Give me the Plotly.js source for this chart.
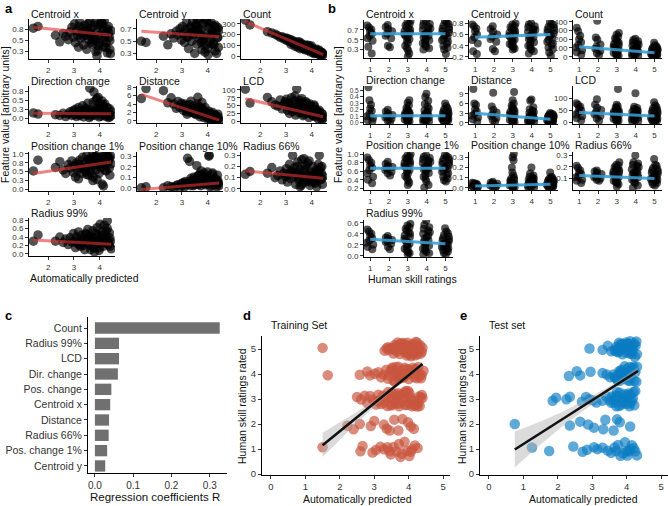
<!DOCTYPE html>
<html><head><meta charset="utf-8">
<script src="https://cdn.plot.ly/plotly-3.0.1.min.js"></script>
<style>html,body{margin:0;padding:0;background:#fff}#chart{width:668px;height:506px}</style>
</head><body><div id="chart"></div>
<script>
// ---------- DATA ----------
const features = ['Centroid x','Centroid y','Count','Direction change','Distance','LCD','Position change 1%','Position change 10%','Radius 66%','Radius 99%'];

// Panel a: automatically predicted score (x) shared by all feature panels
const predA = [
 1.42,1.60,2.28,2.45,2.58,2.68,2.78,2.85,2.92,2.98,
 3.02,3.06,3.10,3.14,3.18,3.22,3.26,3.30,3.34,3.38,
 3.42,3.46,3.50,3.54,3.58,3.62,3.66,3.70,3.74,3.78,
 3.82,3.86,3.90,3.94,3.98,4.02,4.06,4.10,4.14,4.18,
 4.22,4.26,4.30,4.34,4.38,4.42,4.45,3.55,3.75,3.95,
 4.15,4.35,3.65,3.85,4.05,4.25,3.45,4.40,3.20,4.00,
 3.60,3.80,4.20,4.30,3.90,3.70,4.10,3.35,4.40,3.50];
const centroidXA = [
 0.78,0.82,0.62,0.47,0.66,0.60,0.52,0.70,0.80,0.58,
 0.88,0.45,0.72,0.62,0.35,0.92,0.55,0.68,0.78,0.40,
 0.85,0.62,0.30,0.74,0.50,0.93,0.66,0.42,0.80,0.58,
 0.90,0.48,0.70,0.28,0.62,0.86,0.55,0.75,0.36,0.95,
 0.64,0.45,0.22,0.82,0.58,0.20,0.72,0.88,0.52,0.38,
 0.78,0.68,0.60,0.25,0.92,0.34,0.70,0.50,0.82,0.44,
 0.66,0.85,0.56,0.76,0.15,0.46,0.90,0.60,0.30,0.74];
const centroidYA = [
 0.50,0.48,0.58,0.44,0.62,0.55,0.66,0.60,0.70,0.52,
 0.74,0.62,0.48,0.68,0.80,0.56,0.38,0.72,0.64,0.50,
 0.82,0.60,0.30,0.76,0.45,0.66,0.84,0.54,0.70,0.36,
 0.78,0.58,0.42,0.85,0.64,0.28,0.72,0.52,0.80,0.62,
 0.46,0.74,0.34,0.66,0.56,0.40,0.68,0.76,0.48,0.82,
 0.60,0.30,0.70,0.54,0.78,0.44,0.62,0.72,0.58,0.38,
 0.84,0.50,0.66,0.76,0.32,0.60,0.46,0.74,0.56,0.68];
const countA = [
 335,290,228,215,205,190,175,180,160,170,
 150,165,140,155,135,150,125,140,118,130,
 112,128,100,118,95,110,90,100,80,95,
 75,88,68,80,60,72,52,64,45,55,
 38,48,30,40,22,30,18,70,60,40,
 30,10,75,55,35,20,85,35,110,95,
 120,105,65,55,100,70,25,95,5,135];
const dirChangeA = [
 0.15,0.12,0.10,0.08,0.14,0.05,0.12,0.18,0.08,0.22,
 0.10,0.25,0.05,0.15,0.30,0.08,0.20,0.12,0.35,0.04,
 0.18,0.28,0.10,0.42,0.15,0.84,0.06,0.22,0.12,0.73,
 0.08,0.50,0.18,0.26,0.04,0.30,0.14,0.38,0.10,0.22,
 0.06,0.16,0.30,0.02,0.12,0.20,0.08,0.24,0.45,0.58,
 0.34,0.10,0.16,0.28,0.06,0.14,0.20,0.26,0.12,0.36,
 0.02,0.18,0.40,0.08,0.55,0.10,0.48,0.22,0.04,0.14];
const distanceA = [
 5.3,7.7,7.2,4.3,5.5,4.0,3.0,4.6,3.2,4.2,
 3.8,2.5,4.0,3.0,2.2,3.6,2.8,3.9,2.0,3.2,
 2.6,3.5,1.8,2.9,2.2,5.6,1.6,2.6,1.9,4.4,
 1.4,2.4,1.6,2.0,1.1,1.8,0.9,1.5,0.7,1.2,
 0.6,1.0,0.4,0.8,0.3,0.5,0.2,1.5,3.0,1.4,
 1.7,0.2,3.4,0.8,2.3,0.3,1.9,1.0,1.6,0.5,
 4.0,2.9,2.0,1.4,3.2,1.0,0.3,4.7,1.6,2.7];
const lcdA = [
 102,58,76,62,52,48,68,40,55,62,
 70,35,58,25,48,75,32,52,65,20,
 103,45,28,60,38,72,18,50,34,62,
 25,44,12,55,30,40,20,48,15,35,
 25,8,30,18,12,22,10,66,42,28,
 38,15,55,32,18,30,40,5,42,45,
 30,58,20,35,48,22,52,80,25,55];
const posChange1A = [
 0.52,0.82,0.62,0.78,0.55,0.45,0.70,0.60,0.80,0.48,
 0.66,0.35,0.74,0.55,0.30,0.82,0.62,0.45,0.90,0.58,
 0.72,0.50,0.95,0.65,0.40,0.85,0.60,0.78,0.25,0.92,
 0.68,0.55,0.98,0.75,0.45,0.88,0.62,0.15,0.80,0.95,
 0.70,0.52,0.90,0.78,0.60,0.95,0.72,0.82,0.35,0.70,
 0.10,0.85,0.48,0.92,0.65,1.00,0.58,0.40,0.70,0.85,
 0.76,0.88,0.55,0.98,0.28,0.95,0.75,0.62,0.88,0.42];
const posChange10A = [
 0.00,0.01,0.00,0.02,0.01,0.005,0.02,0.03,0.01,0.04,
 0.02,0.05,0.01,0.06,0.03,0.28,0.04,0.25,0.02,0.07,
 0.05,0.10,0.03,0.08,0.21,0.04,0.12,0.06,0.02,0.09,
 0.05,0.14,0.03,0.07,0.11,0.04,0.31,0.08,0.02,0.13,
 0.06,0.03,0.09,0.05,0.12,0.04,0.02,0.06,0.16,0.04,
 0.08,0.01,0.03,0.10,0.30,0.06,0.02,0.07,0.04,0.15,
 0.11,0.05,0.14,0.03,0.08,0.13,0.01,0.09,0.05,0.07];
const radius66A = [
 0.13,0.155,0.14,0.19,0.10,0.12,0.16,0.08,0.14,0.11,
 0.18,0.06,0.13,0.22,0.09,0.15,0.30,0.11,0.19,0.04,
 0.14,0.24,0.08,0.17,0.12,0.26,0.05,0.16,0.10,0.21,
 0.07,0.13,0.25,0.03,0.15,0.09,0.20,0.12,0.05,0.17,
 0.10,0.22,0.30,0.08,0.14,0.04,0.11,0.02,0.18,0.06,
 0.15,0.19,0.10,0.23,0.07,0.13,0.20,0.09,0.16,0.12,
 0.03,0.09,0.02,0.16,0.11,0.27,0.06,0.14,0.20,0.10];
const radius99A = [
 0.30,0.45,0.30,0.40,0.27,0.35,0.22,0.38,0.28,0.48,
 0.30,0.15,0.40,0.25,0.52,0.32,0.18,0.44,0.28,0.36,
 0.10,0.48,0.26,0.58,0.34,0.20,0.42,0.30,0.55,0.14,
 0.38,0.24,0.62,0.32,0.08,0.70,0.28,0.45,0.18,0.68,
 0.26,0.40,0.78,0.22,0.50,0.30,0.12,0.36,0.20,0.44,
 0.35,0.28,0.10,0.48,0.25,0.55,0.32,0.38,0.22,0.15,
 0.40,0.05,0.30,0.60,0.26,0.34,0.52,0.20,0.18,0.46];
// regression line ends, panel a (x from 1.42 to 4.45)
const fitAX = [1.42, 4.45];
const fitAStart = [0.80, 0.66, 320, 0.14, 6.3, 72, 0.45, -0.015, 0.16, 0.33];
const fitAEnd   = [0.62, 0.57, 15, 0.13, 0.2, 15, 0.77, 0.045, 0.095, 0.23];
const predTicksA = [2, 3, 4];
const aTickVals = [[0.25,0.5,0.75],[0.3,0.5,0.7],[0,100,200,300],[0,0.25,0.5,0.75],[0,2,4,6,8],[0,25,50,75,100],[0,0.25,0.5,0.75,1],[0,0.1,0.2,0.3],[0,0.1,0.2,0.3],[0,0.2,0.4,0.6,0.8]];
const aTickText = [['0.3','0.5','0.8'],['0.3','0.5','0.7'],['0','100','200','300'],['0.0','0.3','0.5','0.8'],['0','2','4','6','8'],['0','25','50','75','100'],['0.0','0.3','0.5','0.8','1.0'],['0.0','0.1','0.2','0.3'],['0.0','0.1','0.2','0.3'],['0.0','0.2','0.4','0.6','0.8']];

// Panel b: human skill ratings (x) shared by all feature panels (10 x 1, 9 x 2, 20 x 3, 20 x 4, 20 x 5)
const ratingB = [1,1,1,1,1,1,1,1,1,1, 2,2,2,2,2,2,2,2,2,
 3,3,3,3,3,3,3,3,3,3,3,3,3,3,3,3,3,3,3,3,
 4,4,4,4,4,4,4,4,4,4,4,4,4,4,4,4,4,4,4,4,
 5,5,5,5,5,5,5,5,5,5,5,5,5,5,5,5,5,5,5,5];
const centroidXB = [0.79,0.75,0.71,0.67,0.62,0.58,0.53,0.48,0.36,0.22, 0.80,0.76,0.72,0.67,0.62,0.58,0.53,0.38,0.35,
 0.88,0.85,0.82,0.79,0.76,0.73,0.70,0.67,0.64,0.61,0.58,0.55,0.51,0.47,0.43,0.38,0.33,0.28,0.22,0.16,
 0.88,0.85,0.82,0.79,0.76,0.73,0.70,0.67,0.64,0.61,0.58,0.55,0.52,0.49,0.46,0.43,0.40,0.36,0.33,0.30,
 0.88,0.85,0.82,0.79,0.76,0.73,0.70,0.67,0.64,0.61,0.58,0.55,0.52,0.49,0.46,0.42,0.38,0.34,0.30,0.21];
const centroidYB = [0.78,0.75,0.71,0.66,0.60,0.55,0.50,0.44,0.30,0.25, 0.75,0.70,0.65,0.60,0.56,0.52,0.47,0.34,0.30,
 0.80,0.78,0.75,0.73,0.70,0.68,0.66,0.63,0.61,0.58,0.56,0.53,0.51,0.48,0.46,0.43,0.41,0.38,0.35,0.33,
 0.80,0.78,0.75,0.73,0.70,0.68,0.65,0.63,0.60,0.57,0.55,0.52,0.49,0.46,0.43,0.40,0.37,0.33,0.30,0.26,
 0.82,0.79,0.77,0.74,0.72,0.69,0.67,0.64,0.62,0.59,0.56,0.53,0.50,0.47,0.44,0.41,0.37,0.33,0.28,0.22];
const countB = [330,290,240,200,165,135,105,75,50,25, 410,220,195,140,115,90,65,40,20,
 270,250,230,210,192,175,160,145,130,117,104,92,80,68,56,45,34,23,12,4,
 205,192,178,164,150,138,126,114,103,92,82,72,62,53,44,35,26,17,9,3,
 160,130,118,108,99,90,82,74,67,60,53,47,41,35,29,23,17,11,6,2];
const dirChangeB = [0.55,0.35,0.28,0.22,0.18,0.14,0.10,0.07,0.04,0.02, 0.20,0.17,0.14,0.12,0.10,0.08,0.06,0.03,0.01,
 0.35,0.31,0.27,0.23,0.20,0.18,0.16,0.15,0.13,0.12,0.11,0.10,0.09,0.08,0.06,0.05,0.04,0.03,0.02,0.01,
 0.45,0.40,0.34,0.29,0.25,0.22,0.19,0.17,0.15,0.13,0.12,0.10,0.09,0.08,0.06,0.05,0.04,0.03,0.02,0.01,
 0.30,0.26,0.23,0.21,0.19,0.17,0.15,0.14,0.12,0.11,0.10,0.09,0.08,0.07,0.06,0.05,0.04,0.03,0.02,0.01];
const distanceB = [10.5,6.0,5.5,4.2,3.5,2.8,2.2,1.6,1.0,0.4, 9.3,5.0,4.0,3.2,2.6,2.0,1.4,0.8,0.3,
 9.5,7.0,6.0,5.3,4.7,4.2,3.8,3.4,3.0,2.7,2.4,2.1,1.8,1.5,1.2,0.9,0.7,0.4,0.2,0.1,
 7.2,6.8,4.8,4.2,3.7,3.3,3.0,2.7,2.4,2.1,1.9,1.6,1.4,1.2,1.0,0.8,0.6,0.4,0.2,0.1,
 3.0,2.8,2.6,2.4,2.2,2.0,1.9,1.7,1.5,1.4,1.2,1.1,0.9,0.8,0.6,0.5,0.4,0.3,0.15,0.05];
const lcdB = [78,72,64,56,48,40,32,24,16,8, 95,72,60,50,42,33,25,15,5,
 138,72,66,61,56,51,47,43,39,35,31,28,24,21,18,14,11,8,5,2,
 120,64,59,54,50,46,42,38,35,31,28,25,22,19,16,13,10,7,4,1,
 82,70,63,57,52,47,42,38,34,30,27,24,21,18,15,12,9,6,3,1];
const posChange1B = [0.92,0.86,0.80,0.74,0.68,0.62,0.55,0.47,0.40,0.32, 0.82,0.77,0.73,0.70,0.67,0.63,0.59,0.55,0.50,
 1.00,0.97,0.94,0.91,0.88,0.85,0.82,0.79,0.76,0.73,0.70,0.66,0.62,0.58,0.54,0.49,0.44,0.38,0.33,0.28,
 0.97,0.94,0.91,0.88,0.85,0.82,0.79,0.76,0.73,0.70,0.67,0.64,0.60,0.56,0.52,0.47,0.42,0.36,0.28,0.22,
 0.98,0.95,0.92,0.89,0.86,0.83,0.80,0.77,0.74,0.71,0.68,0.65,0.62,0.59,0.55,0.51,0.47,0.43,0.39,0.36];
const posChange10B = [0.05,0.045,0.04,0.035,0.03,0.025,0.02,0.015,0.01,0.00, 0.06,0.05,0.045,0.04,0.03,0.025,0.02,0.01,0.00,
 0.33,0.30,0.27,0.20,0.15,0.12,0.10,0.09,0.08,0.07,0.06,0.05,0.04,0.035,0.03,0.025,0.02,0.01,0.005,0.00,
 0.20,0.14,0.12,0.11,0.10,0.09,0.08,0.07,0.065,0.06,0.05,0.045,0.04,0.035,0.03,0.025,0.02,0.01,0.005,0.00,
 0.15,0.11,0.10,0.09,0.08,0.075,0.07,0.06,0.055,0.05,0.045,0.04,0.035,0.03,0.025,0.02,0.015,0.01,0.005,0.00];
const radius66B = [0.21,0.19,0.17,0.15,0.14,0.12,0.11,0.09,0.08,0.06, 0.17,0.16,0.15,0.14,0.12,0.11,0.10,0.09,0.08,
 0.24,0.22,0.21,0.20,0.19,0.18,0.17,0.16,0.15,0.14,0.13,0.12,0.11,0.10,0.09,0.08,0.07,0.06,0.05,0.03,
 0.30,0.24,0.23,0.22,0.21,0.20,0.18,0.17,0.16,0.15,0.14,0.13,0.12,0.11,0.10,0.09,0.07,0.06,0.04,0.02,
 0.27,0.22,0.21,0.19,0.18,0.17,0.16,0.15,0.14,0.13,0.12,0.11,0.10,0.095,0.09,0.08,0.07,0.06,0.05,0.04];
const radius99B = [0.48,0.44,0.40,0.36,0.32,0.28,0.24,0.20,0.16,0.12, 0.36,0.33,0.31,0.29,0.27,0.25,0.22,0.16,0.12,
 0.58,0.55,0.52,0.49,0.46,0.43,0.40,0.37,0.34,0.31,0.28,0.25,0.22,0.19,0.16,0.13,0.10,0.07,0.05,0.03,
 0.64,0.56,0.52,0.49,0.46,0.43,0.40,0.37,0.34,0.31,0.28,0.25,0.22,0.19,0.16,0.13,0.10,0.07,0.05,0.03,
 0.50,0.44,0.41,0.38,0.35,0.32,0.30,0.28,0.26,0.24,0.22,0.20,0.18,0.16,0.14,0.12,0.10,0.08,0.05,0.03];
const fitBX = [1, 5];
const fitBStart = [0.62, 0.55, 115, 0.11, 2.9, 40, 0.67, 0.02, 0.125, 0.30];
const fitBEnd   = [0.62, 0.60, 45, 0.11, 1.1, 25, 0.67, 0.035, 0.10, 0.22];
const ratingTicks = [1, 2, 3, 4, 5];
const bTickVals = [[0.3,0.5,0.7],[0.2,0.4,0.6,0.8],[0,100,200,300,400],[0,0.1,0.2,0.3,0.4,0.5],[0,3,6,9],[0,50,100],[0.2,0.4,0.6,0.8,1.0],[0,0.1,0.2,0.3],[0.1,0.2,0.3],[0,0.2,0.4,0.6]];
const bTickText = [['0.3','0.5','0.7'],['0.2','0.4','0.6','0.8'],['0','100','200','300','400'],['0.0','0.1','0.2','0.3','0.4','0.5'],['0','3','6','9'],['0','50','100'],['0.2','0.4','0.6','0.8','1.0'],['0.0','0.1','0.2','0.3'],['0.1','0.2','0.3'],['0.0','0.2','0.4','0.6']];

// Panel c
const categoriesC = ['Count','Radius 99%','LCD','Dir. change','Pos. change','Centroid x','Distance','Radius 66%','Pos. change 1%','Centroid y'];
const coefC = [0.326, 0.063, 0.063, 0.060, 0.043, 0.040, 0.037, 0.036, 0.032, 0.027];
const coefTicks = [0, 0.1, 0.2, 0.3];
const coefTickText = ['0.0','0.1','0.2','0.3'];

// Panel d: training set, predicted score grouped by human rating
const trainR1 = [1.50,2.60,2.66,2.95,3.05,3.18,3.28,3.38,3.48,3.56,3.64,3.72,3.80,3.88,3.95,4.02,4.10,4.18,4.26,3.44,3.76,4.06];
const trainR2 = [2.22,2.40,2.58,2.90,3.00,3.28,3.36,3.58,3.70,3.82,3.98,4.06,4.15,3.45];
const trainR3 = [2.50,2.62,2.72,2.80,2.88,2.95,3.00,3.05,3.10,3.15,3.20,3.25,3.30,3.35,3.40,3.45,3.50,3.55,3.60,3.65,3.70,3.75,3.80,3.85,3.90,3.95,4.00,4.05,4.10,4.15,4.20,4.25,4.30,4.35,4.40,3.28,3.48,3.68,3.88,4.08,4.28,3.62,3.98,
 3.12,3.38,3.58,3.72,3.82,3.92,4.02,4.12,4.22,4.32,4.38,3.52];
const trainR4 = [1.65,2.58,2.80,2.88,3.02,3.12,3.20,3.28,3.35,3.42,3.48,3.53,3.58,3.63,3.68,3.72,3.76,3.80,3.84,3.88,3.92,3.96,4.00,4.04,4.08,4.12,4.16,4.20,4.24,4.28,4.32,4.38,4.43,3.66,3.86,4.02,4.18,3.50,
 3.40,3.56,3.70,3.78,3.90,3.98,4.10,4.22,4.30,4.36,3.60,3.82];
const trainR5 = [1.50,3.30,3.36,3.42,3.48,3.53,3.58,3.62,3.66,3.70,3.74,3.78,3.82,3.85,3.88,3.92,3.95,3.98,4.01,4.04,4.07,4.10,4.13,4.16,4.19,4.22,4.25,4.28,4.31,4.35,4.40,3.60,3.80,4.00,4.20,4.12,3.90,4.05,3.72,
 3.40,3.56,3.68,3.76,3.84,3.94,4.03,4.15,4.24,4.33,4.38,3.97];
const trainFitX = [1.50, 4.40];
const trainFitY = [1.15, 4.40];
const trainCiX = [1.5, 2.0, 2.5, 3.0, 3.5, 4.0, 4.4];
const trainCiLo = [0.68, 1.36, 2.05, 2.70, 3.31, 3.88, 4.30];
const trainCiHi = [1.65, 2.06, 2.49, 2.96, 3.47, 4.02, 4.50];

// Panel e: test set
const testR1 = [1.25,1.75,2.45,2.72,2.85,3.05,3.15,3.30,3.45,3.55,3.65,3.75,3.82,3.90,3.95,4.00,4.05,4.10,4.15,4.20,4.25,4.30,3.70,4.02];
const testR2 = [0.75,2.35,2.65,2.88,3.05,3.32,3.38,3.62,3.72,3.80,4.10];
const testR3 = [1.85,1.95,2.25,2.35,2.70,2.82,2.92,3.02,3.12,3.30,3.40,3.50,3.58,3.65,3.70,3.75,3.80,3.85,3.90,3.95,4.00,4.05,4.10,4.15,4.20,4.25,3.55,3.88,4.12,3.72,
 3.62,3.78,3.92,4.02,4.08,4.18,4.22,3.68];
const testR4 = [2.32,2.55,2.65,2.95,3.30,3.42,3.52,3.62,3.68,3.72,3.76,3.80,3.84,3.88,3.92,3.96,4.00,4.04,4.08,4.12,4.16,4.20,4.25,4.30,3.78,3.94,4.06,4.18,
 3.66,3.74,3.86,3.98,4.10,4.22,4.28,3.82];
const testR5 = [2.92,3.30,3.45,3.55,3.65,3.70,3.74,3.78,3.82,3.86,3.90,3.94,3.98,4.02,4.06,4.10,4.14,4.18,4.22,4.26,4.30,3.72,3.88,4.00,4.12,4.20,3.80,3.96,4.08,
 3.76,3.84,3.92,4.04,4.16,4.24,4.28,3.68];
const testFitX = [0.75, 4.33];
const testFitY = [0.98, 4.12];
const testCiX = [0.75, 1.5, 2.25, 3.0, 3.5, 4.0, 4.33];
const testCiLo = [0.26, 1.18, 2.04, 2.78, 3.27, 3.70, 3.95];
const testCiHi = [1.70, 2.10, 2.56, 3.12, 3.51, 3.96, 4.29];
const scoreTicks = [0, 1, 2, 3, 4, 5];

// ---------- LAYOUT / DRAWING ----------
const W = 668, H = 506;
const FONT = 'Liberation Sans, Arial, sans-serif';
const layout = {
  width: W, height: H, margin: {l:0, r:0, t:0, b:0}, showlegend: false,
  paper_bgcolor: '#fff', plot_bgcolor: 'rgba(0,0,0,0)',
  font: {family: FONT, color: '#111'}, annotations: []
};
const traces = [];
let axCount = 0;
const baseAxis = {showline:true, linecolor:'#000', linewidth:1, ticks:'outside', ticklen:3, tickwidth:1,
  tickcolor:'#333', showgrid:false, zeroline:false, tickfont:{size:8, color:'#333'}, fixedrange:true};
function addPanel(xpx, ypx, xo, yo) {
  axCount++;
  const s = axCount === 1 ? '' : String(axCount);
  layout['xaxis' + s] = Object.assign({}, baseAxis, {domain:[xpx[0]/W, xpx[1]/W], anchor:'y' + s}, xo);
  layout['yaxis' + s] = Object.assign({}, baseAxis, {domain:[1 - ypx[1]/H, 1 - ypx[0]/H], anchor:'x' + s}, yo);
  return {xaxis:'x' + s, yaxis:'y' + s};
}
function ann(text, px, py, opts) {
  layout.annotations.push(Object.assign({text:text, x:px/W, y:1 - py/H, xref:'paper', yref:'paper',
    showarrow:false, xanchor:'left', yanchor:'middle', font:{size:10.5, color:'#111'}}, opts || {}));
}

// panel a
const aCols = [[29,115],[137,223],[241,327]];
const aRows = [[19,59],[86,123],[152,191],[218,256]];
const aTitleY = [14, 81, 146, 212.5];
const aYRange = [[0.08,0.99],[0.21,0.86],[-25,345],[-0.13,0.90],[-0.5,8.3],[-5,112],[-0.04,1.05],[-0.03,0.34],[-0.02,0.33],[-0.05,0.85]];
const aSeries = [centroidXA, centroidYA, countA, dirChangeA, distanceA, lcdA, posChange1A, posChange10A, radius66A, radius99A];
aSeries.forEach(function(ys, i) {
  const r = Math.floor(i/3), c = i % 3;
  const ax = addPanel(aCols[c], aRows[r],
    {range:[1.25,4.6], tickvals:predTicksA, ticktext:predTicksA.map(String)},
    {range:aYRange[i], tickvals:aTickVals[i], ticktext:aTickText[i]});
  traces.push({type:'scatter', mode:'markers', x:predA, y:ys, xaxis:ax.xaxis, yaxis:ax.yaxis,
    marker:{size:9.5, color:'rgba(0,0,0,0.68)'}, hoverinfo:'skip'});
  traces.push({type:'scatter', mode:'lines', x:fitAX, y:[fitAStart[i], fitAEnd[i]], xaxis:ax.xaxis, yaxis:ax.yaxis,
    line:{color:'rgba(228,50,50,0.6)', width:3}, hoverinfo:'skip'});
  ann(features[i], aCols[c][0], aTitleY[r]);
});

// panel b
const bCols = [[364,453],[469,558],[573,662]];
const bRows = [[20,58],[86,124],[152,190],[220,257]];
const bTitleY = [14, 80, 145, 212.5];
const bYRange = [[0.13,0.90],[0.18,0.86],[-15,420],[-0.02,0.57],[-0.4,11.4],[-8,150],[0.16,1.05],[-0.02,0.35],[0.0,0.33],[-0.02,0.65]];
const bSeries = [centroidXB, centroidYB, countB, dirChangeB, distanceB, lcdB, posChange1B, posChange10B, radius66B, radius99B];
bSeries.forEach(function(ys, i) {
  const r = Math.floor(i/3), c = i % 3;
  const yo = {range:bYRange[i], tickvals:bTickVals[i], ticktext:bTickText[i]};
  if (bTickVals[i].length > 5) yo.tickfont = {size:6.5, color:'#333'};
  const ax = addPanel(bCols[c], bRows[r],
    {range:[0.67,5.4], tickvals:ratingTicks, ticktext:ratingTicks.map(String)}, yo);
  traces.push({type:'box', x:ratingB, y:ys, xaxis:ax.xaxis, yaxis:ax.yaxis, boxpoints:'all', jitter:1, pointpos:0,
    width:0.42, marker:{size:8, color:'rgba(0,0,0,0.66)'}, line:{color:'rgba(0,0,0,0)', width:0},
    fillcolor:'rgba(0,0,0,0)', hoverinfo:'skip'});
  traces.push({type:'scatter', mode:'lines', x:fitBX, y:[fitBStart[i], fitBEnd[i]], xaxis:ax.xaxis, yaxis:ax.yaxis,
    line:{color:'rgba(55,158,215,0.88)', width:3}, hoverinfo:'skip'});
  ann(features[i], bCols[c][0], bTitleY[r]);
});

// panel c
const axc = addPanel([88,227],[317,473],
  {range:[-0.018,0.345], tickvals:coefTicks, ticktext:coefTickText, tickfont:{size:10, color:'#333'}},
  {type:'category', range:[9.46,-0.72], tickfont:{size:10.5, color:'#333'}});
traces.push({type:'bar', orientation:'h', x:coefC, y:categoriesC, xaxis:axc.xaxis, yaxis:axc.yaxis, width:0.74,
  marker:{color:'#707070', line:{width:0}}, hoverinfo:'skip'});

// panels d, e
function stack(groups) {
  const x = [], y = [];
  groups.forEach(function(g, k) { g.forEach(function(v) { x.push(v); y.push(k + 1); }); });
  return {x:x, y:y};
}
function scorePanel(xpx, groups, color, ciX, ciLo, ciHi, fitX, fitY) {
  const ax = addPanel(xpx, [336,475],
    {range:[-0.26,5.2], tickvals:scoreTicks, ticktext:scoreTicks.map(String), tickfont:{size:9.5, color:'#333'}},
    {range:[-0.04,5.52], tickvals:scoreTicks, ticktext:scoreTicks.map(String), tickfont:{size:9.5, color:'#333'}});
  const s = stack(groups);
  traces.push({type:'box', orientation:'h', x:s.x, y:s.y, xaxis:ax.xaxis, yaxis:ax.yaxis, boxpoints:'all', jitter:1,
    pointpos:0, width:0.66, marker:{size:10.5, color:color}, line:{color:'rgba(0,0,0,0)', width:0},
    fillcolor:'rgba(0,0,0,0)', hoverinfo:'skip'});
  traces.push({type:'scatter', mode:'lines', x:ciX.concat(ciX.slice().reverse()), y:ciHi.concat(ciLo.slice().reverse()),
    fill:'toself', fillcolor:'rgba(175,175,175,0.45)', line:{width:0}, xaxis:ax.xaxis, yaxis:ax.yaxis, hoverinfo:'skip'});
  traces.push({type:'scatter', mode:'lines', x:fitX, y:fitY, xaxis:ax.xaxis, yaxis:ax.yaxis,
    line:{color:'#111', width:2.6}, hoverinfo:'skip'});
}
scorePanel([262,450], [trainR1,trainR2,trainR3,trainR4,trainR5], 'rgba(200,85,62,0.68)', trainCiX, trainCiLo, trainCiHi, trainFitX, trainFitY);
scorePanel([480,668], [testR1,testR2,testR3,testR4,testR5], 'rgba(10,125,195,0.66)', testCiX, testCiLo, testCiHi, testFitX, testFitY);

// texts
const bold = {size:13, color:'#000'};
ann('<b>a</b>', 3, 8, {font:bold});
ann('<b>b</b>', 326, 8, {font:bold});
ann('<b>c</b>', 3, 315, {font:bold});
ann('<b>d</b>', 241, 315, {font:bold});
ann('<b>e</b>', 458, 315, {font:bold});
const axTitle = {size:10.5, color:'#111'};
ann('Feature value [arbitrary units]', 5, 115, {xanchor:'center', textangle:-90, font:axTitle});
ann('Feature value [arbitrary units]', 338, 115, {xanchor:'center', textangle:-90, font:axTitle});
ann('Automatically predicted', 84, 278, {xanchor:'center', font:axTitle});
ann('Human skill ratings', 412, 279, {xanchor:'center', font:axTitle});
ann('Regression coefficients R', 155, 497, {xanchor:'center', font:{size:11.5, color:'#111'}});
ann('Automatically predicted', 358, 499, {xanchor:'center', font:axTitle});
ann('Automatically predicted', 583, 499, {xanchor:'center', font:axTitle});
ann('Human skill ratings rated', 242, 406, {xanchor:'center', textangle:-90, font:axTitle});
ann('Human skill ratings rated', 462, 406, {xanchor:'center', textangle:-90, font:axTitle});
ann('Training Set', 269, 325, {font:{size:10.5, color:'#111'}});
ann('Test set', 487, 325, {font:{size:10.5, color:'#111'}});

Plotly.newPlot('chart', traces, layout, {staticPlot:true, displayModeBar:false});
</script>
</body></html>
